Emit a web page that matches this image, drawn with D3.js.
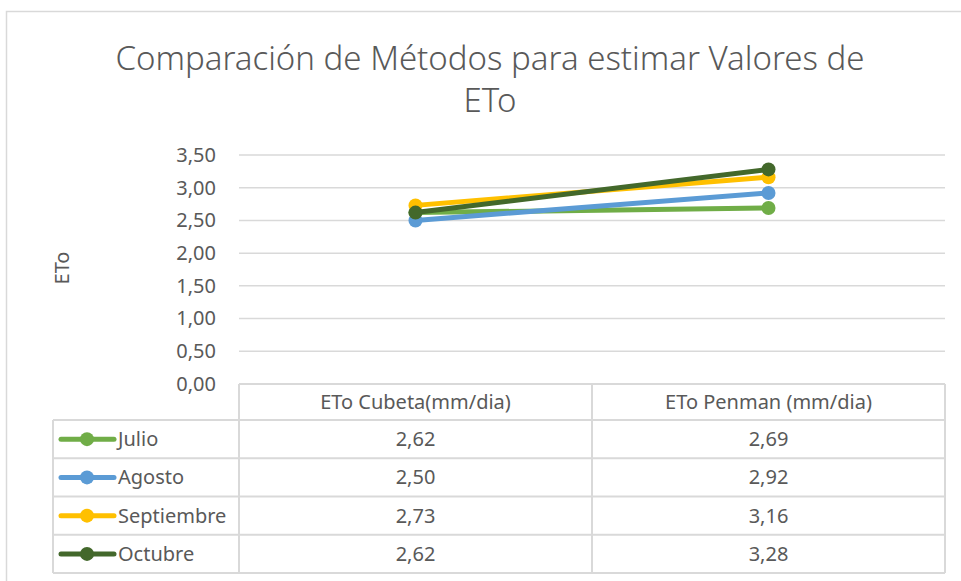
<!DOCTYPE html>
<html lang="es">
<head>
<meta charset="UTF-8">
<title>Comparación de Métodos para estimar Valores de ETo</title>
<script src="https://d3js.org/d3.v7.min.js"></script>
<style>
  body { margin: 0; background: #fff; }
  svg { display: block; font-family: "Noto Sans", "Open Sans", sans-serif; }
</style>
</head>
<body>
<svg id="chart" width="961" height="581"></svg>
<script>
// data
const categories = ["ETo Cubeta(mm/dia)", "ETo Penman (mm/dia)"];
const seriesNames = ["Julio", "Agosto", "Septiembre", "Octubre"];
const seriesColors = ["#70AD47", "#5B9BD5", "#FFC000", "#43682B"];
const cubetaValues = [2.62, 2.50, 2.73, 2.62];
const penmanValues = [2.69, 2.92, 3.16, 3.28];
const yTicks = [0, 0.5, 1, 1.5, 2, 2.5, 3, 3.5];

const series = seriesNames.map((name, i) => ({
  name: name,
  color: seriesColors[i],
  values: [cubetaValues[i], penmanValues[i]]
}));

const svg = d3.select("#chart");
const textColor = "#595959";
const gridColor = "#d9d9d9";
const fs = 20;
const fmt = v => d3.format(".2f")(v).replace(".", ",");

// outer chart border
svg.append("rect")
  .attr("x", 6.5).attr("y", 11.5)
  .attr("width", 970).attr("height", 600)
  .attr("fill", "none").attr("stroke", gridColor).attr("stroke-width", 1.5);

// title
const title = svg.append("text")
  .attr("text-anchor", "middle")
  .attr("fill", textColor)
  .attr("font-size", 33)
  .attr("font-weight", 300);
title.append("tspan").attr("x", 490).attr("y", 70).text("Comparación de Métodos para estimar Valores de");
title.append("tspan").attr("x", 490).attr("y", 112).text("ETo");

const plotLeft = 239, plotRight = 945, plotTop = 155, plotBottom = 384;

const x = d3.scaleBand().domain(categories).range([plotLeft, plotRight]);
const y = d3.scaleLinear().domain([0, 3.5]).range([plotBottom, plotTop]);

// gridlines
svg.append("g")
  .selectAll("line")
  .data(yTicks.filter(t => t > 0))
  .join("line")
  .attr("x1", plotLeft).attr("x2", plotRight)
  .attr("y1", d => y(d)).attr("y2", d => y(d))
  .attr("stroke", gridColor).attr("stroke-width", 1.5);

// y axis labels
const yAxis = svg.append("g")
  .attr("transform", `translate(${plotLeft},0)`)
  .call(d3.axisLeft(y).tickValues(yTicks).tickFormat(fmt).tickSize(0).tickPadding(23));
yAxis.select(".domain").remove();
yAxis.selectAll("text")
  .attr("fill", textColor)
  .attr("font-size", fs)
  .attr("font-family", "Noto Sans, sans-serif");

// y axis title
svg.append("text")
  .attr("transform", "translate(69,268) rotate(-90)")
  .attr("text-anchor", "middle")
  .attr("fill", textColor)
  .attr("font-size", fs)
  .text("ETo");

// lines
const line = d3.line()
  .x((d, i) => x(categories[i]) + x.bandwidth() / 2)
  .y(d => y(d));

const sg = svg.append("g")
  .selectAll("g")
  .data(series)
  .join("g");

sg.append("path")
  .attr("d", d => line(d.values))
  .attr("fill", "none")
  .attr("stroke", d => d.color)
  .attr("stroke-width", 5)
  .attr("stroke-linecap", "round");

sg.selectAll("circle")
  .data(d => d.values.map((v, i) => ({ v: v, i: i, color: d.color })))
  .join("circle")
  .attr("cx", d => x(categories[d.i]) + x.bandwidth() / 2)
  .attr("cy", d => y(d.v))
  .attr("r", 7)
  .attr("fill", d => d.color);

// data table
const headerH = 36;
const tableBottom = 573;
const rowY = d3.scaleBand().domain(seriesNames).range([plotBottom + headerH, tableBottom]);
const tableLeft = 53;
const tg = svg.append("g");

// horizontal lines
tg.append("line")
  .attr("x1", plotLeft).attr("x2", plotRight)
  .attr("y1", plotBottom).attr("y2", plotBottom)
  .attr("stroke", gridColor).attr("stroke-width", 2);
tg.selectAll("line.row")
  .data(seriesNames)
  .join("line")
  .attr("class", "row")
  .attr("x1", tableLeft).attr("x2", plotRight)
  .attr("y1", d => rowY(d)).attr("y2", d => rowY(d))
  .attr("stroke", gridColor).attr("stroke-width", 2);
tg.append("line")
  .attr("x1", tableLeft).attr("x2", plotRight)
  .attr("y1", tableBottom).attr("y2", tableBottom)
  .attr("stroke", gridColor).attr("stroke-width", 2);

// vertical lines
tg.append("line")
  .attr("x1", tableLeft).attr("x2", tableLeft)
  .attr("y1", plotBottom + headerH).attr("y2", tableBottom)
  .attr("stroke", gridColor).attr("stroke-width", 2);
tg.selectAll("line.col")
  .data([plotLeft, x(categories[1]), plotRight])
  .join("line")
  .attr("class", "col")
  .attr("x1", d => d).attr("x2", d => d)
  .attr("y1", plotBottom).attr("y2", tableBottom)
  .attr("stroke", gridColor).attr("stroke-width", 2);

// header text
tg.selectAll("text.head")
  .data(categories)
  .join("text")
  .attr("class", "head")
  .attr("x", d => x(d) + x.bandwidth() / 2)
  .attr("y", plotBottom + headerH / 2 + 7)
  .attr("text-anchor", "middle")
  .attr("fill", textColor)
  .attr("font-size", fs)
  .text(d => d);

// rows
const rows = tg.selectAll("g.rowg")
  .data(series)
  .join("g")
  .attr("class", "rowg")
  .attr("transform", d => `translate(0,${rowY(d.name) + rowY.bandwidth() / 2})`);

rows.append("line")
  .attr("x1", 61).attr("x2", 114)
  .attr("stroke", d => d.color)
  .attr("stroke-width", 5)
  .attr("stroke-linecap", "round");
rows.append("circle")
  .attr("cx", 87).attr("r", 7)
  .attr("fill", d => d.color);
rows.append("text")
  .attr("x", 118).attr("y", 7)
  .attr("fill", textColor)
  .attr("font-size", fs)
  .text(d => d.name);

rows.selectAll("text.val")
  .data(d => d.values)
  .join("text")
  .attr("class", "val")
  .attr("x", (d, i) => x(categories[i]) + x.bandwidth() / 2)
  .attr("y", 7)
  .attr("text-anchor", "middle")
  .attr("fill", textColor)
  .attr("font-size", fs)
  .text(d => fmt(d));
</script>
</body>
</html>
